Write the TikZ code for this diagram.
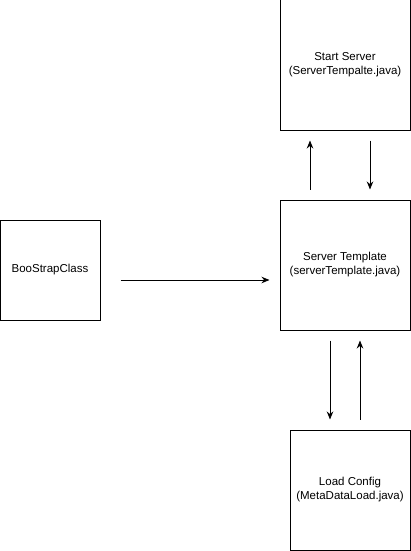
\documentclass[tikz,border=0pt]{standalone}
\usepackage{fontspec}
\setmainfont{Liberation Sans}
\usetikzlibrary{arrows.meta}
\begin{document}
\begin{tikzpicture}[x=1pt,y=-1pt,
  box/.style={draw=black,line width=1pt,inner sep=0pt,align=center,font=\fontsize{11.5}{14}\selectfont},
  arr/.style={line width=1pt,-{Stealth[length=8pt,width=6.5pt]}}]
\useasboundingbox[fill=white] (0,0) rectangle (411,551);
\node[box,minimum width=130pt,minimum height=130pt] (start) at (345,65) {Start Server\\(ServerTempalte.java)};
\node[box,minimum width=100pt,minimum height=100pt] (boot) at (50,270) {BooStrapClass};
\node[box,minimum width=130pt,minimum height=130pt] (st) at (345,265) {Server Template\\(serverTemplate.java)};
\node[box,minimum width=120pt,minimum height=120pt] (load) at (350,490) {Load Config\\(MetaDataLoad.java)};
\draw[arr] ([xshift=20pt,yshift=-10pt]boot.east) -- ([xshift=-10pt,yshift=-15pt]st.west);
\draw[arr] ([xshift=-35pt,yshift=10pt]st.north) -- ([xshift=-35pt,yshift=-10pt]start.south);
\draw[arr] ([xshift=25pt,yshift=-10pt]start.south) -- ([xshift=25pt,yshift=10pt]st.north);
\draw[arr] ([xshift=-15pt,yshift=-10pt]st.south) -- ([xshift=-20pt,yshift=10pt]load.north);
\draw[arr] ([xshift=10pt,yshift=10pt]load.north) -- ([xshift=15pt,yshift=-10pt]st.south);
\end{tikzpicture}
\end{document}
